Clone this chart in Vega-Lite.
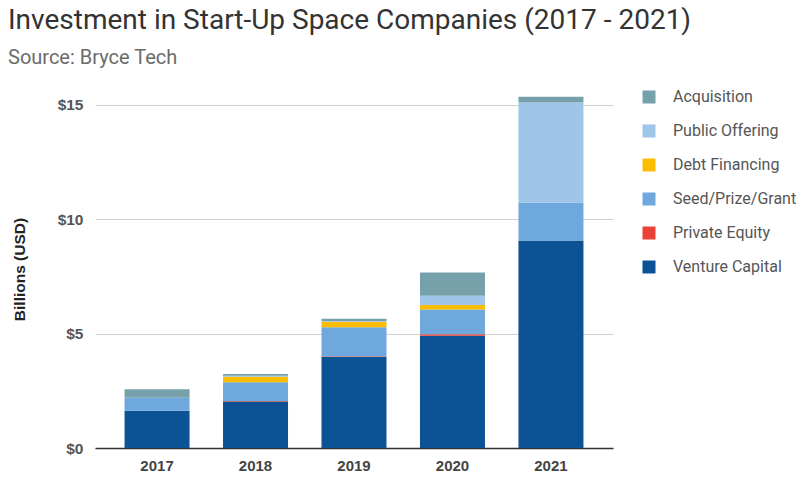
{
  "$schema": "https://vega.github.io/schema/vega-lite/v6.json",
  "width": 518,
  "height": 358,
  "autosize": {"type": "none"},
  "padding": {"left": 95, "top": 90, "right": 188, "bottom": 29},
  "background": "white",
  "title": {
    "text": "Investment in Start-Up Space Companies (2017 - 2021)",
    "subtitle": "Source: Bryce Tech",
    "anchor": "start",
    "frame": "group",
    "dx": -87,
    "offset": 21,
    "font": "Roboto",
    "fontSize": 28,
    "fontWeight": "normal",
    "color": "#333333",
    "subtitleFont": "Roboto",
    "subtitleFontSize": 20,
    "subtitleColor": "#6b6b6b",
    "subtitlePadding": 13
  },
  "data": {
    "values": [
      {"year": "2017", "type": "Venture Capital", "value": 1.63},
      {"year": "2017", "type": "Private Equity", "value": 0},
      {"year": "2017", "type": "Seed/Prize/Grant", "value": 0.57},
      {"year": "2017", "type": "Debt Financing", "value": 0},
      {"year": "2017", "type": "Public Offering", "value": 0},
      {"year": "2017", "type": "Acquisition", "value": 0.37},
      {"year": "2018", "type": "Venture Capital", "value": 2.03},
      {"year": "2018", "type": "Private Equity", "value": 0.03},
      {"year": "2018", "type": "Seed/Prize/Grant", "value": 0.81},
      {"year": "2018", "type": "Debt Financing", "value": 0.25},
      {"year": "2018", "type": "Public Offering", "value": 0.04},
      {"year": "2018", "type": "Acquisition", "value": 0.08},
      {"year": "2019", "type": "Venture Capital", "value": 3.99},
      {"year": "2019", "type": "Private Equity", "value": 0.02},
      {"year": "2019", "type": "Seed/Prize/Grant", "value": 1.27},
      {"year": "2019", "type": "Debt Financing", "value": 0.24},
      {"year": "2019", "type": "Public Offering", "value": 0.03},
      {"year": "2019", "type": "Acquisition", "value": 0.1},
      {"year": "2020", "type": "Venture Capital", "value": 4.91},
      {"year": "2020", "type": "Private Equity", "value": 0.06},
      {"year": "2020", "type": "Seed/Prize/Grant", "value": 1.09},
      {"year": "2020", "type": "Debt Financing", "value": 0.19},
      {"year": "2020", "type": "Public Offering", "value": 0.41},
      {"year": "2020", "type": "Acquisition", "value": 1.01},
      {"year": "2021", "type": "Venture Capital", "value": 9.07},
      {"year": "2021", "type": "Private Equity", "value": 0},
      {"year": "2021", "type": "Seed/Prize/Grant", "value": 1.66},
      {"year": "2021", "type": "Debt Financing", "value": 0},
      {"year": "2021", "type": "Public Offering", "value": 4.37},
      {"year": "2021", "type": "Acquisition", "value": 0.26}
    ]
  },
  "transform": [
    {"calculate": "indexof(['Venture Capital','Private Equity','Seed/Prize/Grant','Debt Financing','Public Offering','Acquisition'], datum.type)", "as": "stackOrder"}
  ],
  "mark": {"type": "bar"},
  "encoding": {
    "x": {
      "field": "year",
      "type": "nominal",
      "scale": {"paddingInner": 0.34, "paddingOuter": 0.3},
      "axis": {
        "title": null,
        "labelAngle": 0,
        "labelFont": "Liberation Sans",
        "labelFontSize": 15,
        "labelFontWeight": "bold",
        "labelColor": "#444444",
        "labelPadding": 10,
        "ticks": false,
        "domainColor": "#333333",
        "domainWidth": 1.5,
        "grid": false
      }
    },
    "y": {
      "field": "value",
      "type": "quantitative",
      "stack": "zero",
      "scale": {"domain": [0, 15.65], "nice": false},
      "axis": {
        "title": "Billions (USD)",
        "titleFont": "Liberation Sans",
        "titleFontSize": 15.5,
        "titleFontWeight": "bold",
        "titleColor": "#222222",
        "titlePadding": 30,
        "values": [0, 5, 10, 15],
        "labelExpr": "'$' + datum.value",
        "labelFont": "Liberation Sans",
        "labelFontSize": 15.5,
        "labelFontWeight": "bold",
        "labelColor": "#555555",
        "labelPadding": 12,
        "ticks": false,
        "domain": false,
        "grid": true,
        "gridColor": "#d0d0d0",
        "gridWidth": 1
      }
    },
    "order": {"field": "stackOrder", "type": "quantitative", "sort": "ascending"},
    "color": {
      "field": "type",
      "type": "nominal",
      "scale": {
        "domain": ["Acquisition", "Public Offering", "Debt Financing", "Seed/Prize/Grant", "Private Equity", "Venture Capital"],
        "range": ["#76a1ab", "#9fc5e8", "#fbbc04", "#6fa8dc", "#ea4335", "#0b5394"]
      },
      "legend": {
        "title": null,
        "orient": "none",
        "legendX": 546,
        "legendY": -1,
        "symbolType": "square",
        "symbolSize": 169,
        "symbolStrokeWidth": 0,
        "labelFont": "Roboto",
        "labelFontSize": 16,
        "labelColor": "#555555",
        "labelOffset": 16,
        "rowPadding": 18
      }
    }
  },
  "config": {"view": {"stroke": null}}
}
